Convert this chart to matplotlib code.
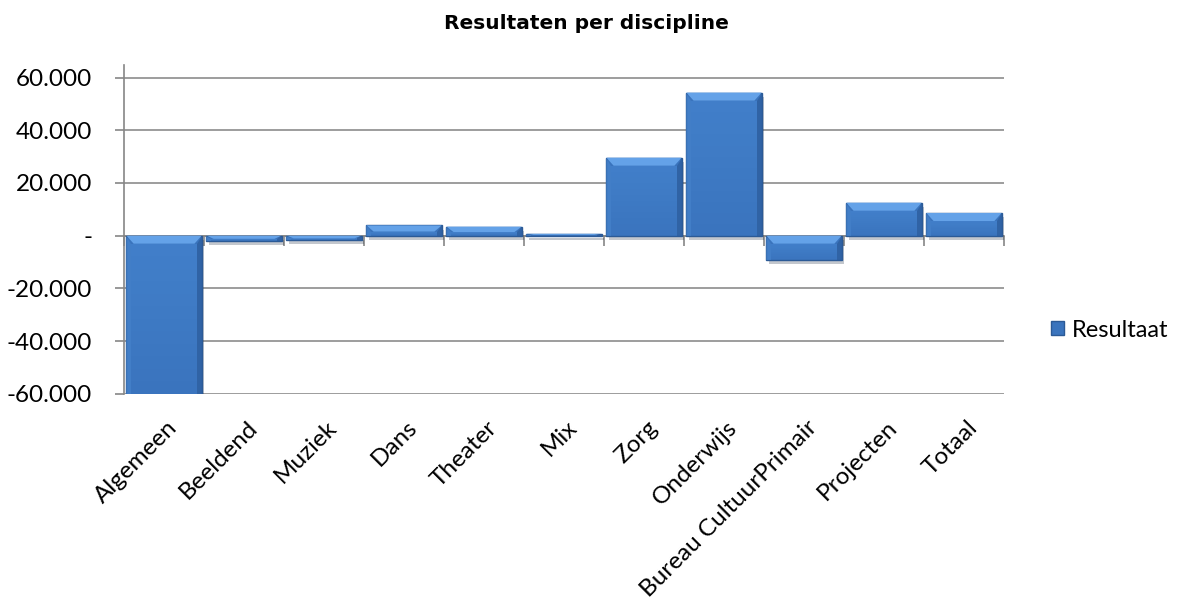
import numpy as np
import matplotlib
matplotlib.use('Agg')
import matplotlib.pyplot as plt
import matplotlib.patheffects as pe
from matplotlib.patches import Polygon, Patch
from matplotlib.ticker import FuncFormatter

# data
categories = ['Algemeen', 'Beeldend', 'Muziek', 'Dans', 'Theater', 'Mix', 'Zorg',
              'Onderwijs', 'Bureau CultuurPrimair', 'Projecten', 'Totaal']
resultaat = [-82900, -2000, -1700, 3900, 3400, 700, 29600, 54300, -9200, 12500, 8600]
y_ticks = [-60000, -40000, -20000, 0, 20000, 40000, 60000]

plt.rcParams['font.family'] = ['Lato', 'DejaVu Sans']

fig = plt.figure(figsize=(11.77, 5.97), dpi=100)
ax = fig.add_axes([0.1054, 0.3405, 0.7476, 0.5505])

x = np.arange(len(categories))
ymin, ymax = -60000, 64750
bw = 0.94

bars = ax.bar(x, resultaat, width=bw, color='#3a74bd', edgecolor='#2b5a96',
              linewidth=1.0, zorder=3,
              path_effects=[pe.SimplePatchShadow(offset=(2, -3), alpha=0.25), pe.Normal()])

# bevel on top of every bar (lighter), fixed ~8 px high
px = (ymax - ymin) / (0.5505 * 597)
bev = 8 * px
inset = 0.09
for xi, v in zip(x, resultaat):
    top = max(v, 0)
    bot = max(min(v, 0), ymin)
    h = top - bot
    b = min(bev, h * 0.6)
    l, r = xi - bw / 2, xi + bw / 2
    ax.add_patch(Polygon([[l, top], [r, top], [r - inset, top - b], [l + inset, top - b]],
                         closed=True, facecolor='#64a2e8', edgecolor='none', zorder=4))
    # darker sides
    ax.add_patch(Polygon([[r, top], [r, bot], [r - inset * 0.6, bot], [r - inset * 0.6, top - b]],
                         closed=True, facecolor='#2a5896', edgecolor='none', zorder=4, alpha=0.6))
    ax.add_patch(Polygon([[l, top], [l, bot], [l + inset * 0.6, bot], [l + inset * 0.6, top - b]],
                         closed=True, facecolor='#4a88d2', edgecolor='none', zorder=4, alpha=0.5))
    # soft vertical shading: lighter towards the top
    n = 12
    for k in range(n):
        y0 = top - b - (h - b) * k / n
        y1 = top - b - (h - b) * (k + 1) / n
        ax.add_patch(Polygon([[l + inset * 0.6, y0], [r - inset * 0.6, y0],
                              [r - inset * 0.6, y1], [l + inset * 0.6, y1]],
                             closed=True, facecolor='#4b8cd8', edgecolor='none',
                             zorder=3.5, alpha=0.45 * (1 - k / n)))

ax.set_xlim(-0.5, len(categories) - 0.5)
ax.set_ylim(ymin, ymax)

ax.set_yticks(y_ticks)
ax.yaxis.set_major_formatter(FuncFormatter(
    lambda v, p: '-' if v == 0 else ('-' if v < 0 else '') + '{:,.0f}'.format(abs(v)).replace(',', '.')))
ax.tick_params(axis='y', labelsize=17.5, length=6.5, color='#868686', width=1.2, pad=16.5)
ax.grid(axis='y', color='#8c8c8c', linewidth=1.2, zorder=0)

for s in ['top', 'right']:
    ax.spines[s].set_visible(False)
ax.spines['left'].set_color('#868686')
ax.spines['left'].set_linewidth(1.2)
ax.spines['bottom'].set_position(('data', 0))
ax.spines['bottom'].set_color('#868686')
ax.spines['bottom'].set_linewidth(1.2)
ax.spines['bottom'].set_zorder(2)

ax.set_xticks(np.arange(len(categories) + 1) - 0.5)
ax.set_xticklabels([])
ax.tick_params(axis='x', length=7, color='#868686', width=1.2, direction='out')

trans = ax.get_xaxis_transform()
for xi, name in zip(x, categories):
    ax.text(xi + 0.03, -0.07, name, transform=trans, rotation=45, ha='right', va='top',
            rotation_mode='anchor', fontsize=17.5, color='#000000')

fig.text(0.498, 0.96, 'Resultaten per discipline', ha='center', va='center',
         fontsize=14.5, fontweight='bold', family='DejaVu Sans')

handle = Patch(facecolor='#3a74bd', edgecolor='#2b5a96')
fig.legend([handle], ['Resultaat'], loc='center left', bbox_to_anchor=(0.879, 0.447),
           frameon=False, fontsize=17, handlelength=0.55, handleheight=0.55,
           handletextpad=0.35, borderpad=0.2)

fig.savefig('out.png', dpi=100)
